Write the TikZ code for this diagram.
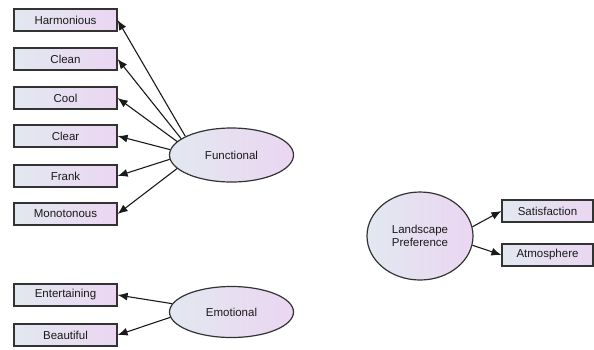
\documentclass[tikz,border=0pt]{standalone}
\usepackage{fontspec}
\setmainfont{Liberation Sans}
\usepackage{tikz}
\usetikzlibrary{arrows.meta, positioning, shapes.geometric}
\definecolor{Ink}{HTML}{1A1A1A}
\definecolor{Edge}{HTML}{333333}
\definecolor{SoftSlate}{HTML}{E2E8F0}
\definecolor{SoftLilac}{HTML}{EBD6F2}

\begin{document}
\begin{tikzpicture}[
  x=1pt, y=-1pt,
  font=\fontsize{11.5}{13.5}\selectfont,
  obs/.style={draw=Edge, line width=1.2pt, minimum width=103pt, minimum height=22pt, inner sep=0pt, left color=SoftSlate, right color=SoftLilac, text=Ink},
  latent/.style={ellipse, draw=Edge, line width=1.2pt, inner sep=0pt, left color=SoftSlate, right color=SoftLilac, text=Ink, align=center},
  arrow/.style={-{Latex[length=10pt, width=8pt]}, line width=1.1pt, draw=Ink}
]
\useasboundingbox (0,0) rectangle (594,349);

% indicators
\node[obs] (harmonious) at (65.5,20) {Harmonious};
\node[obs] (clean) at (65.5,59) {Clean};
\node[obs] (cool) at (65.5,98) {Cool};
\node[obs] (clear) at (65.5,136) {Clear};
\node[obs] (frank) at (65.5,176) {Frank};
\node[obs] (monotonous) at (65.5,214) {Monotonous};
\node[obs] (entertaining) at (65.5,295) {Entertaining};
\node[obs] (beautiful) at (65.5,335) {Beautiful};
\node[obs, minimum width=91pt] (satisfaction) at (547.5,211) {Satisfaction};
\node[obs, minimum width=91pt] (atmosphere) at (547.5,255) {Atmosphere};

% factors
\node[latent, minimum width=124pt, minimum height=54pt] (functional) at (231.5,155) {Functional};
\node[latent, minimum width=124pt, minimum height=51pt] (emotional) at (231.5,312) {Emotional};
\node[latent, minimum width=106pt, minimum height=88pt] (preference) at (420,236) {Landscape\\Preference};

\draw[arrow] (functional.158) -- (harmonious.east);
\draw[arrow] (functional.162) -- (clean.east);
\draw[arrow] (functional.166) -- (cool.east);
\draw[arrow] (functional.175) -- (clear.east);
\draw[arrow] (functional.184) -- (frank.east);
\draw[arrow] (functional.194) -- (monotonous.east);
\draw[arrow] (emotional.172) -- (entertaining.east);
\draw[arrow] (emotional.185) -- (beautiful.east);
\draw[arrow] (preference.10) -- (satisfaction.west);
\draw[arrow] (preference.-10) -- (atmosphere.west);
\end{tikzpicture}
\end{document}
